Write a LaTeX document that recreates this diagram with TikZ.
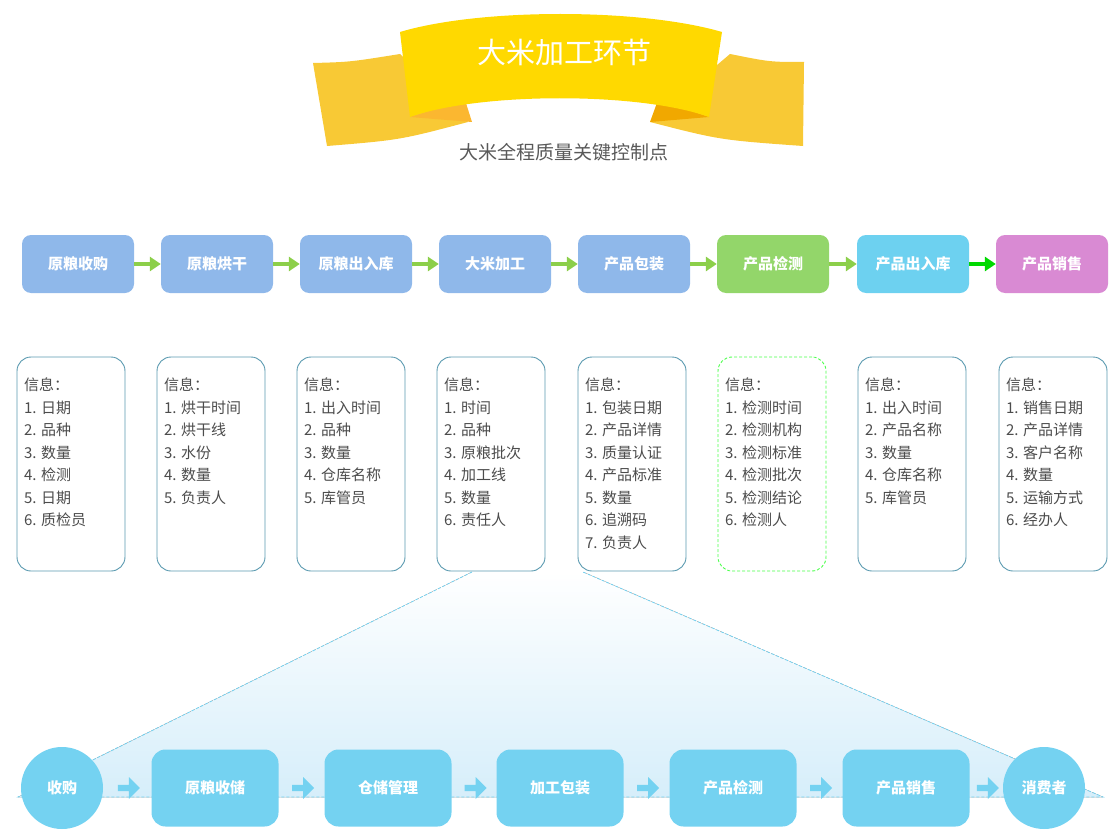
\documentclass[tikz,border=0pt]{standalone}
\usepackage{fontspec}
\setmainfont{Noto Sans CJK SC}
\usetikzlibrary{shapes.arrows,arrows.meta,calc}
\definecolor{topblue}{HTML}{8FB8EA}
\definecolor{topgreen}{HTML}{93D66A}
\definecolor{topcyan}{HTML}{6DD1F0}
\definecolor{toppink}{HTML}{D98AD3}
\definecolor{arrgreen}{HTML}{8CCF4A}
\definecolor{infoline}{HTML}{5A9AB0}
\definecolor{botblue}{HTML}{74D2F1}
\definecolor{fanblue}{HTML}{D6EEFA}
\definecolor{ribbon}{HTML}{FFD900}
\definecolor{tail}{HTML}{F8C935}
\definecolor{foldL}{HTML}{FBB730}
\definecolor{foldR}{HTML}{F1A800}
\begin{document}
\begin{tikzpicture}[x=1pt,y=-1pt,
  stage/.style={rounded corners=9pt,minimum width=112pt,minimum height=58pt,text=white,font=\fontsize{15}{17}\selectfont\bfseries},
  info/.style={draw=infoline,line width=0.9pt,rounded corners=14pt,minimum width=108pt,minimum height=214pt},
  infotext/.style={anchor=north west,align=left,text=black!70,font=\fontsize{15}{22.5}\selectfont},
  garrow/.style={draw=arrgreen,line width=4pt,-{Triangle[length=11pt,width=14pt]}},
  bbox/.style={fill=botblue,rounded corners=14pt,minimum width=127pt,minimum height=77pt,text=white,font=\fontsize{15}{17}\selectfont\bfseries},
  bcirc/.style={circle,fill=botblue,minimum size=82pt,inner sep=0pt,text=white,font=\fontsize{15}{17}\selectfont\bfseries},
  barrow/.style={single arrow,fill=botblue,minimum height=22pt,minimum width=22pt,single arrow head extend=3pt,inner sep=1pt},
  fine/.style={dash pattern=on 3pt off 2pt}]
\useasboundingbox (0,0) rectangle (1113,832);
% banner
\fill[tail] (313,63) .. controls (350,62) .. (400,54) -- (468,122) .. controls (400,140) .. (327,146) -- cycle;
\fill[tail] (804,62) .. controls (770,62) .. (730,54) -- (650,122) .. controls (720,140) .. (803,146) -- cycle;
\fill[foldL] (410,117) -- (465,100) -- (472,122) -- cycle;
\fill[foldR] (709,117) -- (658,100) -- (650,122) -- cycle;
\fill[ribbon] (400,32) .. controls (480,8) and (640,8) .. (722,32) -- (709,117) .. controls (640,92) and (480,92) .. (410,117) -- cycle;
\node[text=white,font=\fontsize{29}{32}\selectfont] (title) at (564,52) {大米加工环节};
\node[text=black!65,font=\fontsize{19}{22}\selectfont] (sub) at (564,152) {大米全程质量关键控制点};
% top stages
\foreach \i/\x/\c/\t in {1/78/topblue/原粮收购,2/217/topblue/原粮烘干,3/356/topblue/原粮出入库,4/495/topblue/大米加工,5/634/topblue/产品包装,6/773/topgreen/产品检测,7/913/topcyan/产品出入库,8/1052/toppink/产品销售}
  \node[stage,fill=\c] (s\i) at (\x,264) {\t};
\foreach \a/\b in {1/2,2/3,3/4,4/5,5/6,6/7}
  \draw[garrow] (s\a) -- (s\b);
\draw[draw=green!85!black,line width=4pt,-{Triangle[length=11pt,width=14pt]}] (s7) -- (s8);
% fan
\fill[top color=white,bottom color=fanblue] (472,572) -- (583,572) -- (1103,797) -- (18,797) -- cycle;
\draw[botblue,fine,line width=0.8pt] (472,572) -- (18,797) -- (1103,797) -- (583,572);
% info boxes
\foreach \i/\x/\t in {1/71/{信息：\\1. 日期\\2. 品种\\3. 数量\\4. 检测\\5. 日期\\6. 质检员},
  2/211/{信息：\\1. 烘干时间\\2. 烘干线\\3. 水份\\4. 数量\\5. 负责人},
  3/351/{信息：\\1. 出入时间\\2. 品种\\3. 数量\\4. 仓库名称\\5. 库管员},
  4/491/{信息：\\1. 时间\\2. 品种\\3. 原粮批次\\4. 加工线\\5. 数量\\6. 责任人},
  5/632/{信息：\\1. 包装日期\\2. 产品详情\\3. 质量认证\\4. 产品标准\\5. 数量\\6. 追溯码\\7. 负责人},
  6/772/{信息：\\1. 检测时间\\2. 检测机构\\3. 检测标准\\4. 检测批次\\5. 检测结论\\6. 检测人},
  7/912/{信息：\\1. 出入时间\\2. 产品名称\\3. 数量\\4. 仓库名称\\5. 库管员},
  8/1053/{信息：\\1. 销售日期\\2. 产品详情\\3. 客户名称\\4. 数量\\5. 运输方式\\6. 经办人}}
{
  \ifnum\i=6
    \node[info,draw=green!70,fine,fill=white] (i\i) at (\x,464) {};
  \else
    \node[info,fill=white] (i\i) at (\x,464) {};
  \fi
  \node[infotext] (t\i) at ([xshift=4pt,yshift=-18pt]i\i.north west) {\t};
}
% bottom chain
\node[bcirc] (b0) at (62,788) {收购};
\foreach \i/\x/\t in {1/215/原粮收储,2/388/仓储管理,3/560/加工包装,4/733/产品检测,5/906/产品销售}
  \node[bbox] (b\i) at (\x,788) {\t};
\node[bcirc] (b6) at (1044,788) {消费者};
\foreach \a/\b in {0/1,1/2,2/3,3/4,4/5,5/6}
  \node[barrow] (ar\a) at ($(b\a.east)!0.5!(b\b.west)$) {};
\end{tikzpicture}
\end{document}
